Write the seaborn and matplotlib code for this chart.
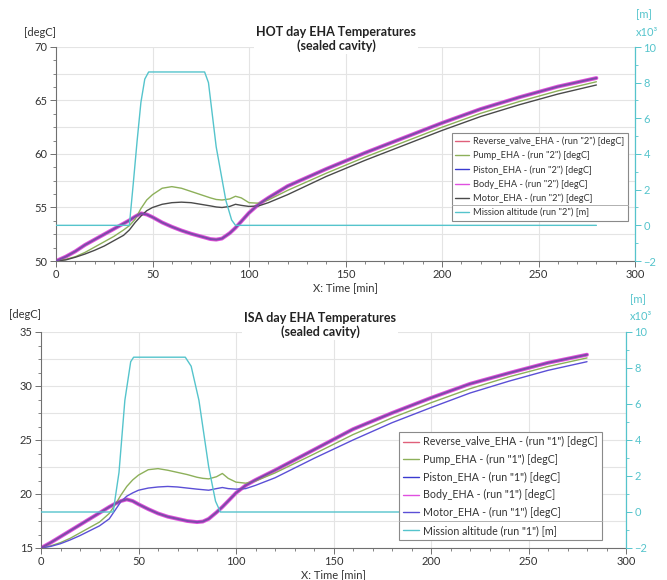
import matplotlib
matplotlib.use("Agg")
import matplotlib.pyplot as plt
import seaborn as sns
from matplotlib.ticker import MultipleLocator
from matplotlib.lines import Line2D

# ---------------- data ----------------
hot_time = [0, 5, 10, 15, 20, 25, 30, 35, 38, 41, 44, 47, 50, 55, 60, 65, 70, 75,
            80, 83, 86, 90, 93, 96, 100, 105, 110, 120, 140, 160, 180, 200, 220, 240, 260, 280]
hot_reverse_valve = [50.0, 50.4, 50.9, 51.5, 52.0, 52.5, 53.0, 53.5, 53.8, 54.15, 54.45, 54.35, 54.1,
                     53.6, 53.2, 52.85, 52.55, 52.3, 52.05, 52.0, 52.1, 52.6, 53.1, 53.7, 54.5, 55.3,
                     55.9, 57.0, 58.6, 60.1, 61.5, 62.9, 64.2, 65.3, 66.3, 67.1]
hot_pump = [50.0, 50.15, 50.4, 50.8, 51.3, 51.8, 52.3, 52.9, 53.3, 53.9, 54.9, 55.7, 56.2,
            56.8, 56.95, 56.8, 56.5, 56.2, 55.9, 55.75, 55.7, 55.8, 56.05, 55.9, 55.45, 55.4,
            55.7, 56.6, 58.2, 59.7, 61.1, 62.5, 63.8, 64.9, 65.9, 66.75]
hot_piston = [50.0, 50.4, 50.9, 51.5, 52.0, 52.5, 53.0, 53.5, 53.8, 54.15, 54.45, 54.35, 54.1,
              53.6, 53.2, 52.85, 52.55, 52.3, 52.05, 52.0, 52.1, 52.6, 53.1, 53.7, 54.5, 55.3,
              55.9, 57.0, 58.6, 60.1, 61.5, 62.9, 64.2, 65.3, 66.3, 67.1]
hot_body = [50.0, 50.4, 50.9, 51.5, 52.0, 52.5, 53.0, 53.5, 53.8, 54.15, 54.45, 54.35, 54.1,
            53.6, 53.2, 52.85, 52.55, 52.3, 52.05, 52.0, 52.1, 52.6, 53.1, 53.7, 54.5, 55.3,
            55.9, 57.0, 58.6, 60.1, 61.5, 62.9, 64.2, 65.3, 66.3, 67.1]
hot_motor = [50.0, 50.1, 50.35, 50.65, 51.0, 51.4, 51.9, 52.4, 52.9, 53.6, 54.2, 54.7, 55.0,
             55.3, 55.45, 55.5, 55.45, 55.3, 55.15, 55.05, 55.0, 55.1, 55.3, 55.2, 55.1, 55.15,
             55.45, 56.2, 57.9, 59.4, 60.8, 62.2, 63.5, 64.6, 65.6, 66.45]
hot_alt_time = [0, 38, 40, 42, 44, 46, 48, 77, 79, 83, 88, 91, 93, 280]
hot_altitude = [0, 0, 2.3, 4.7, 6.9, 8.2, 8.6, 8.6, 8.0, 4.4, 1.4, 0.3, 0, 0]   # x10^3 m

isa_time = [0, 5, 10, 15, 20, 25, 30, 35, 38, 41, 44, 47, 50, 55, 60, 65, 70, 75,
            80, 83, 86, 90, 93, 96, 100, 105, 110, 120, 140, 160, 180, 200, 220, 240, 260, 280]
isa_reverse_valve = [15.0, 15.5, 16.05, 16.6, 17.15, 17.7, 18.25, 18.8, 19.1, 19.35, 19.5, 19.35, 19.05,
                     18.6, 18.2, 17.9, 17.7, 17.5, 17.4, 17.45, 17.7, 18.3, 18.8, 19.35, 20.1, 20.8,
                     21.3, 22.2, 24.1, 26.0, 27.5, 28.9, 30.2, 31.2, 32.15, 32.9]
isa_pump = [15.0, 15.2, 15.5, 15.9, 16.4, 16.9, 17.4, 18.2, 19.0, 19.9, 20.7, 21.3, 21.75,
            22.25, 22.35, 22.2, 22.0, 21.8, 21.55, 21.45, 21.4, 21.6, 21.9, 21.45, 21.1, 21.0,
            21.2, 21.95, 23.7, 25.5, 27.05, 28.45, 29.75, 30.85, 31.8, 32.6]
isa_piston = [15.0, 15.5, 16.05, 16.6, 17.15, 17.7, 18.25, 18.8, 19.1, 19.35, 19.5, 19.35, 19.05,
              18.6, 18.2, 17.9, 17.7, 17.5, 17.4, 17.45, 17.7, 18.3, 18.8, 19.35, 20.1, 20.8,
              21.3, 22.2, 24.1, 26.0, 27.5, 28.9, 30.2, 31.2, 32.15, 32.9]
isa_body = [15.0, 15.5, 16.05, 16.6, 17.15, 17.7, 18.25, 18.8, 19.1, 19.35, 19.5, 19.35, 19.05,
            18.6, 18.2, 17.9, 17.7, 17.5, 17.4, 17.45, 17.7, 18.3, 18.8, 19.35, 20.1, 20.8,
            21.3, 22.2, 24.1, 26.0, 27.5, 28.9, 30.2, 31.2, 32.15, 32.9]
isa_motor = [15.0, 15.15, 15.4, 15.75, 16.15, 16.6, 17.05, 17.7, 18.5, 19.3, 19.8, 20.1, 20.35,
             20.55, 20.65, 20.7, 20.65, 20.55, 20.45, 20.4, 20.35, 20.5, 20.6, 20.5, 20.45, 20.5,
             20.8, 21.5, 23.3, 25.0, 26.6, 28.0, 29.35, 30.45, 31.45, 32.25]
isa_alt_time = [0, 37, 40, 43, 46, 47.5, 74, 77, 81, 86, 89.5, 92, 280]
isa_altitude = [0, 0, 2.2, 6.2, 8.35, 8.6, 8.6, 8.1, 6.2, 2.5, 0.6, 0, 0]   # x10^3 m

x_ticks = [0, 50, 100, 150, 200, 250, 300]
alt_ticks = [-2, 0, 2, 4, 6, 8, 10]

# ---------------- style ----------------
sns.set_theme(style="white")
plt.rcParams['font.family'] = ['Lato', 'DejaVu Sans']

W, H = 667, 580
fig = plt.figure(figsize=(W / 100, H / 100), dpi=100)

CYAN = "#55c4cc"
AXC = "#707070"
TXT = "#333333"


def px_box(left, top, right, bottom):
    return [left / W, 1 - bottom / H, (right - left) / W, (bottom - top) / H]


legends = []


def make_panel(box, t, rv, pump, piston, body, motor, at, alt, ylim, run, title, title_xy,
               motor_color, leg_anchor, leg_fs, leg_sp, unit_xy, degc_xy):
    ax = fig.add_axes(box)
    tw = ax.twinx()
    ax.set_zorder(1)
    tw.set_zorder(2)
    ax.patch.set_visible(False)

    sns.lineplot(x=t, y=rv, ax=ax, color="#e0607a", lw=1.4, zorder=4,
                 label=f'Reverse_valve_EHA - (run "{run}") [degC]')
    sns.lineplot(x=t, y=pump, ax=ax, color="#8db05a", lw=1.0, zorder=3,
                 label=f'Pump_EHA - (run "{run}") [degC]')
    sns.lineplot(x=t, y=piston, ax=ax, color="#3a3ad0", lw=1.4, alpha=0.6, zorder=5,
                 label=f'Piston_EHA - (run "{run}") [degC]')
    sns.lineplot(x=t, y=body, ax=ax, color="#e050e0", lw=2.8, zorder=2.5,
                 label=f'Body_EHA - (run "{run}") [degC]')
    sns.lineplot(x=t, y=motor, ax=ax, color=motor_color, lw=1.0, zorder=3,
                 label=f'Motor_EHA - (run "{run}") [degC]')
    sns.lineplot(x=at, y=alt, ax=tw, color=CYAN, lw=1.0,
                 label=f'Mission altitude (run "{run}") [m]')

    ax.set_xlim(0, 300)
    ax.set_ylim(*ylim)
    tw.set_ylim(-2, 10)
    ax.set_xticks(x_ticks)
    ax.xaxis.set_minor_locator(MultipleLocator(10))
    ax.yaxis.set_major_locator(MultipleLocator(5))
    ax.yaxis.set_minor_locator(MultipleLocator(1.25))
    tw.set_yticks(alt_ticks)
    tw.yaxis.set_minor_locator(MultipleLocator(1))

    ax.set_xlabel("X: Time [min]", fontsize=8, color=TXT, labelpad=1)
    ax.set_ylabel("")
    tw.set_ylabel("")

    yv = ylim[0]
    while yv <= ylim[1] + 1e-9:
        ax.axhline(yv, color="#e4e4e4", lw=0.8, zorder=0)
        yv += 2.5
    for xv in x_ticks[1:]:
        ax.axvline(xv, color="#e4e4e4", lw=0.8, zorder=0)

    for s in ["top", "right"]:
        ax.spines[s].set_visible(False)
    for s in ["top", "left", "bottom"]:
        tw.spines[s].set_visible(False)
    ax.spines["left"].set_color(AXC)
    ax.spines["bottom"].set_color(AXC)
    ax.spines["left"].set_linewidth(0.8)
    ax.spines["bottom"].set_linewidth(0.8)
    tw.spines["right"].set_color(CYAN)
    tw.spines["right"].set_linewidth(0.9)

    ax.tick_params(axis="both", which="major", direction="out", length=4, width=0.7,
                   color=AXC, labelsize=8, labelcolor=TXT, pad=2,
                   left=True, bottom=True)
    ax.tick_params(axis="both", which="minor", direction="out", length=2, width=0.6,
                   color=AXC, left=True, bottom=True)
    tw.tick_params(axis="y", which="major", direction="out", length=4, width=0.7,
                   color=CYAN, labelsize=8, labelcolor=CYAN, pad=2, right=True)
    tw.tick_params(axis="y", which="minor", direction="out", length=2, width=0.6,
                   color=CYAN, right=True)

    if ax.get_legend():
        ax.get_legend().remove()
    if tw.get_legend():
        tw.get_legend().remove()
    h1, l1 = ax.get_legend_handles_labels()
    h2, l2 = tw.get_legend_handles_labels()
    leg = tw.legend(h1 + h2, l1 + l2, loc="upper right", bbox_to_anchor=leg_anchor,
                    bbox_transform=ax.transAxes, fontsize=leg_fs, frameon=True,
                    fancybox=False, edgecolor="#8a8a8a", framealpha=1,
                    borderpad=0.4, handlelength=1.5, handletextpad=0.4,
                    labelspacing=leg_sp, borderaxespad=0)
    leg.get_frame().set_linewidth(0.8)
    for lh in leg.get_lines():
        lh.set_linewidth(1.0)
        lh.set_alpha(1)
    for tx in leg.get_texts():
        tx.set_color(TXT)
    legends.append(leg)

    fig.text(title_xy[0] / W, 1 - title_xy[1] / H, title + "\n(sealed cavity)",
             ha="center", va="center", multialignment="center", fontsize=9,
             fontweight="bold", color="#222222", linespacing=1.15,
             bbox=dict(facecolor="white", edgecolor="none", pad=1.5))
    fig.text(degc_xy[0] / W, 1 - degc_xy[1] / H, "[degC]", ha="right", va="center",
             fontsize=8, color=TXT)
    fig.text(unit_xy[0] / W, 1 - unit_xy[1] / H, "[m]", ha="left", va="center",
             fontsize=8, color=CYAN)
    fig.text(unit_xy[0] / W, 1 - (unit_xy[1] + 17) / H, "x10\u00b3", ha="left", va="center",
             fontsize=8, color=CYAN)
    return ax, tw


make_panel(px_box(56, 47, 635, 261), hot_time, hot_reverse_valve, hot_pump, hot_piston,
           hot_body, hot_motor, hot_alt_time, hot_altitude, (50, 70), "2",
           "HOT day EHA Temperatures", (336, 39), "#4a4a4a", (0.988, 0.598), 6.7, 0.5,
           (636, 15), (56, 32))

make_panel(px_box(41, 332, 626, 548), isa_time, isa_reverse_valve, isa_pump, isa_piston,
           isa_body, isa_motor, isa_alt_time, isa_altitude, (15, 35), "1",
           "ISA day EHA Temperatures", (320, 325), "#5b4fd6", (0.959, 0.537), 7.7, 0.62,
           (630, 300), (41, 315))

# separator line between temperature entries and altitude entry in each legend
fig.canvas.draw()
renderer = fig.canvas.get_renderer()
for leg in legends:
    frame = leg.get_frame().get_window_extent(renderer)
    texts = leg.get_texts()
    b_motor = texts[4].get_window_extent(renderer)
    b_alt = texts[5].get_window_extent(renderer)
    ysep = (b_motor.y0 + b_alt.y1) / 2
    fig.add_artist(Line2D([frame.x0 / W, frame.x1 / W], [ysep / H, ysep / H],
                          transform=fig.transFigure, color="#b0b0b0", lw=0.7, zorder=10))

fig.savefig("out.png", dpi=100, facecolor="white")
